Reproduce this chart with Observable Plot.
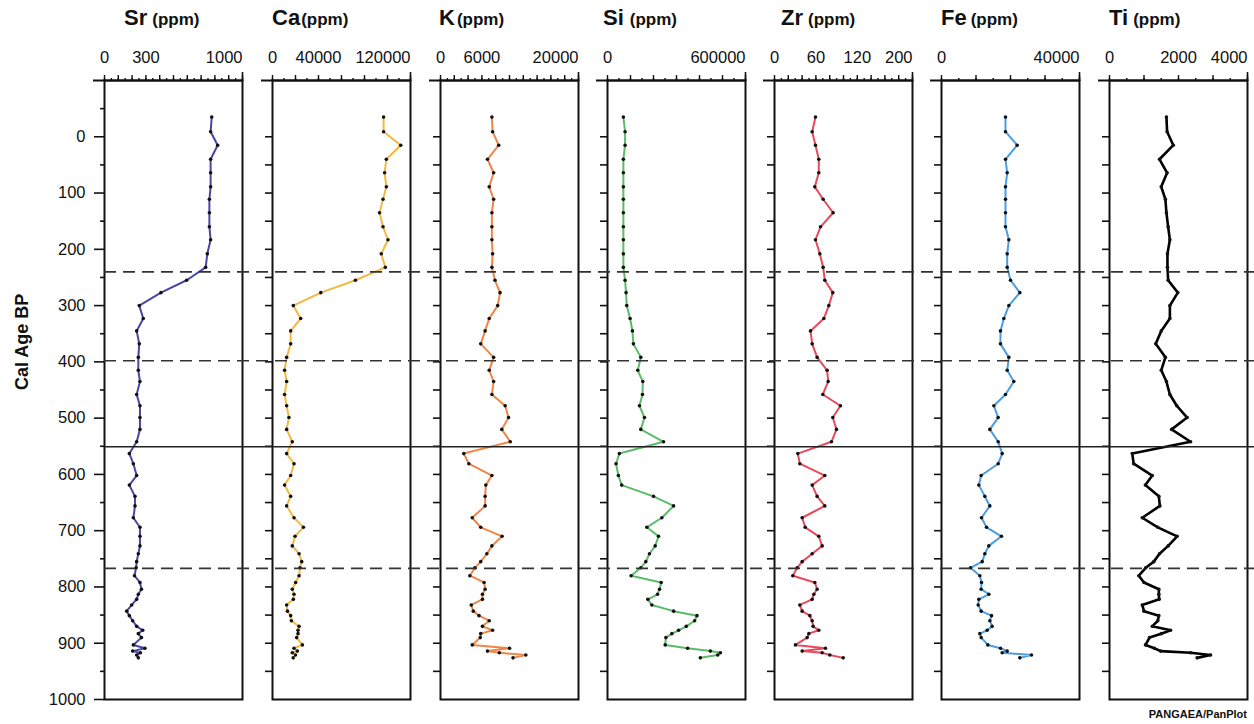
<!DOCTYPE html>
<html>
<head>
<meta charset="utf-8">
<script src="https://cdn.jsdelivr.net/npm/d3@7"></script>
<script src="https://cdn.jsdelivr.net/npm/@observablehq/plot@0.6"></script>
<style>
  body { margin: 0; background: #fff; }
  #chart { position: relative; width: 1254px; height: 724px; overflow: hidden; background: #fff;
           font-family: "Liberation Sans", Arial, Helvetica, sans-serif; color: #111; }
  #chart > svg { position: absolute; top: 0; }
  .title { position: absolute; top: 5px; white-space: nowrap; font-weight: bold; color: #111; }
  .title .el { font-size: 22px; }
  .title .unit { font-size: 17px; }
  .caption { position: absolute; right: 7px; top: 708px; font-size: 11px; font-weight: bold; color: #111; }
</style>
</head>
<body>
<div id="chart"></div>
<script>
// ---- data ----
const ages = [-35,-9,15,40,64,89,111,135,160,183,208,232,255,277,300,323,345,368,392,415,435,458,478,499,520,542,563,581,602,619,639,656,677,694,710,727,741,755,766,780,792,804,813,822,832,843,851,860,870,877,883,890,903,909,914,917,921,926];
const sr = [777,769,820,769,769,769,760,760,760,769,745,733,595,409,252,281,233,252,245,245,257,233,257,257,257,233,180,209,233,180,221,221,209,257,257,257,245,233,229,217,257,268,245,233,197,161,180,204,233,277,245,268,209,293,204,260,233,245];
const ca = [96600,96600,111500,99000,97500,99000,96100,93100,96100,100400,94600,98100,72100,42000,18100,24500,15800,15800,12300,10500,12300,10500,12300,14300,12300,17200,12300,18700,15800,10500,15800,12300,18700,26900,19600,17200,23100,25400,23900,23100,20100,17200,18700,18100,12300,13000,15800,16400,23100,22200,22200,21000,26000,18700,21600,17200,20000,18000];
const k = [7450,7550,8440,6810,7700,7060,7700,7450,7450,7450,7550,7450,7900,8630,8290,7060,6470,5830,7700,7060,7700,7450,9370,9860,8880,10110,3370,4110,7450,6570,6470,6470,4600,5830,8930,7450,6720,5830,4990,4250,6320,6470,6080,6080,4460,4750,5580,7060,6080,7550,5830,5760,4600,10010,6810,8530,12370,10510];
const si = [69000,76400,76400,69000,69000,69000,69000,69000,69000,69000,69000,69000,76400,80700,83700,98200,108400,112700,144800,131700,153500,152000,138900,160700,144800,243600,51600,37100,47300,61800,200000,287300,236400,170900,221800,207300,182500,166600,144800,102600,233500,226200,217500,175300,192800,287300,389100,378900,342600,309100,280000,253800,250900,348400,447300,490900,479300,403600];
const zr = [59.4,54.6,59.4,64.2,64.2,58.4,70.5,85.0,66.7,59.4,65.7,70.5,72.9,84.5,78.7,71.5,52.2,54.6,61.8,76.3,77.8,70.0,95.6,84.5,89.8,82.6,33.8,36.7,72.9,54.6,61.8,72.9,40.1,44.5,64.2,69.1,54.6,40.1,32.9,26.5,58.4,61.8,57.0,54.6,36.7,40.1,51.2,54.6,56.0,64.2,49.8,47.3,30.4,73.9,40.1,69.1,80.2,99.5];
const fe = [18550,18550,21940,18550,19040,18550,18550,18550,18550,19520,19040,19040,20000,22710,19520,18070,17100,17100,19520,19040,20970,18550,15170,16430,14010,16430,17590,16430,11500,10820,12560,14010,11600,13050,17390,13720,12560,11790,8410,11110,11600,11500,13720,10820,10630,11500,14500,14010,14690,13240,11110,11500,13430,17100,19040,17590,26090,22710];
const ti = [1650,1670,1850,1450,1670,1500,1620,1650,1700,1750,1680,1680,1700,1980,1750,1750,1500,1340,1620,1500,1650,1750,1950,2250,1800,2350,660,700,1240,1040,1430,1460,950,1400,1960,1700,1450,1285,1050,850,1000,1430,1430,1440,950,1000,1430,1400,1240,1770,1500,1160,1044,1300,1480,2350,2930,2540];

const elements = ["Sr", "Ca", "K", "Si", "Zr", "Fe", "Ti"];
const series = [sr, ca, k, si, zr, fe, ti];
const maxima = [1000, 120000, 20000, 600000, 200, 40000, 4000];
const tickLabels = [["0","300","1000"], ["0","40000","120000"], ["0","6000","20000"], ["0","600000"], ["0","60","120","200"], ["0","40000"], ["0","2000","4000"]];
const minorStep = [50, 10000, 1000, 50000, 10, 5000, 500];
const majorStep = [100, 20000, 2000, 100000, 20, 10000, 1000];
const ageTicks = d3.range(0, 1001, 100);
const ageMinorTicks = d3.range(-50, 1000, 100);
const dashedAges = [240, 398, 767];
const solidAges = [551];

// ---- styling / layout ----
const colors = ["#4848a4", "#f3b840", "#ee864a", "#5cbb69", "#e8495b", "#4b9de0", "#000000"];
const lineWidths = [2, 2, 2, 2, 2, 2, 2.6];
const panelLeft = [104, 272, 440, 607, 774, 941, 1109];
const titleLeft = [124, 272, 439, 603, 781, 941, 1109];
const unitGap = [5, 1, 2, 6, 5, 4, 5];
const FW = 138, ML = 15, MR = 4, MT = 80, MB = 25, H = 724;
const font = '"Liberation Sans", Arial, Helvetica, sans-serif';
const yOpts = {domain: [-100, 1000], reverse: true, axis: null};
const chart = document.getElementById("chart");
const baseStyle = {fontFamily: font, fontSize: "16.5px", color: "#111", background: "transparent", overflow: "visible"};

elements.forEach((name, i) => {
  const max = maxima[i];
  const data = ages.map((a, j) => ({age: a, value: series[i][j]}));
  const labels = tickLabels[i];
  const svg = Plot.plot({
    width: ML + FW + MR, height: H,
    marginLeft: ML, marginRight: MR, marginTop: MT, marginBottom: MB,
    style: baseStyle,
    x: {domain: [0, max], axis: null},
    y: yOpts,
    marks: [
      i > 0 ? Plot.axisY({ticks: d3.range(0, 1000, 50), tickSize: 7, tickFormat: () => "", label: null, strokeWidth: 1.6}) : null,
      Plot.axisX({anchor: "top", ticks: d3.range(0, max + 1e-9, minorStep[i]), tickSize: 3, tickFormat: () => "", label: null, strokeWidth: 1.4}),
      Plot.axisX({anchor: "top", ticks: d3.range(0, max + 1e-9, majorStep[i]), tickSize: 6, tickFormat: () => "", label: null, strokeWidth: 1.4}),
      Plot.axisX({anchor: "top", ticks: [max], tickSize: 9, tickFormat: () => "", label: null, strokeWidth: 1.6}),
      Plot.ruleY([-100], {x1: -max * 11 / FW, x2: max, strokeWidth: 2, stroke: "#111"}),
      Plot.frame({stroke: "#111", strokeWidth: 2}),
      Plot.text(labels.slice(0, -1), {x: d => +d, text: d => d, frameAnchor: "top", lineAnchor: "bottom", dy: -18, textAnchor: "middle", fontSize: 16.5, fill: "#111"}),
      Plot.text(labels.slice(-1), {x: d => +d, text: d => d, frameAnchor: "top", lineAnchor: "bottom", dy: -18, textAnchor: "end", fontSize: 16.5, fill: "#111"}),
      Plot.line(data, {x: "value", y: "age", stroke: colors[i], strokeWidth: lineWidths[i], strokeLinejoin: "round"}),
      Plot.dot(data, {x: "value", y: "age", r: 1.8, fill: "#111", stroke: "none"})
    ]
  });
  svg.style.left = (panelLeft[i] - ML) + "px";
  chart.append(svg);

  const t = document.createElement("div");
  t.className = "title";
  t.style.left = titleLeft[i] + "px";
  t.innerHTML = `<span class="el">${name}</span><span class="unit" style="margin-left:${unitGap[i]}px">(ppm)</span>`;
  chart.append(t);
});

// y axis, boundaries, axis title
const outer = Plot.plot({
  width: 1254, height: H,
  marginLeft: panelLeft[0], marginRight: 0, marginTop: MT, marginBottom: MB,
  style: baseStyle,
  x: {domain: [0, 1], axis: null},
  y: yOpts,
  marks: [
    Plot.axisY({ticks: ageTicks, tickSize: 10, tickPadding: 9, tickFormat: d => String(d), label: null, fontSize: 16.5, strokeWidth: 1.6}),
    Plot.axisY({ticks: ageMinorTicks, tickSize: 4, tickFormat: () => "", label: null, strokeWidth: 1.6}),
    Plot.ruleY(dashedAges, {stroke: "#333", strokeWidth: 1.6, strokeDasharray: "12,7"}),
    Plot.ruleY(solidAges, {stroke: "#222", strokeWidth: 1.5}),
    Plot.text(["Cal Age BP"], {frameAnchor: "left", dx: -82, rotate: -90, text: d => d, fontSize: 18, fontWeight: "bold", fill: "#111"})
  ]
});
outer.style.left = "0px";
chart.append(outer);

const cap = document.createElement("div");
cap.className = "caption";
cap.textContent = "PANGAEA/PanPlot";
chart.append(cap);
</script>
</body>
</html>
